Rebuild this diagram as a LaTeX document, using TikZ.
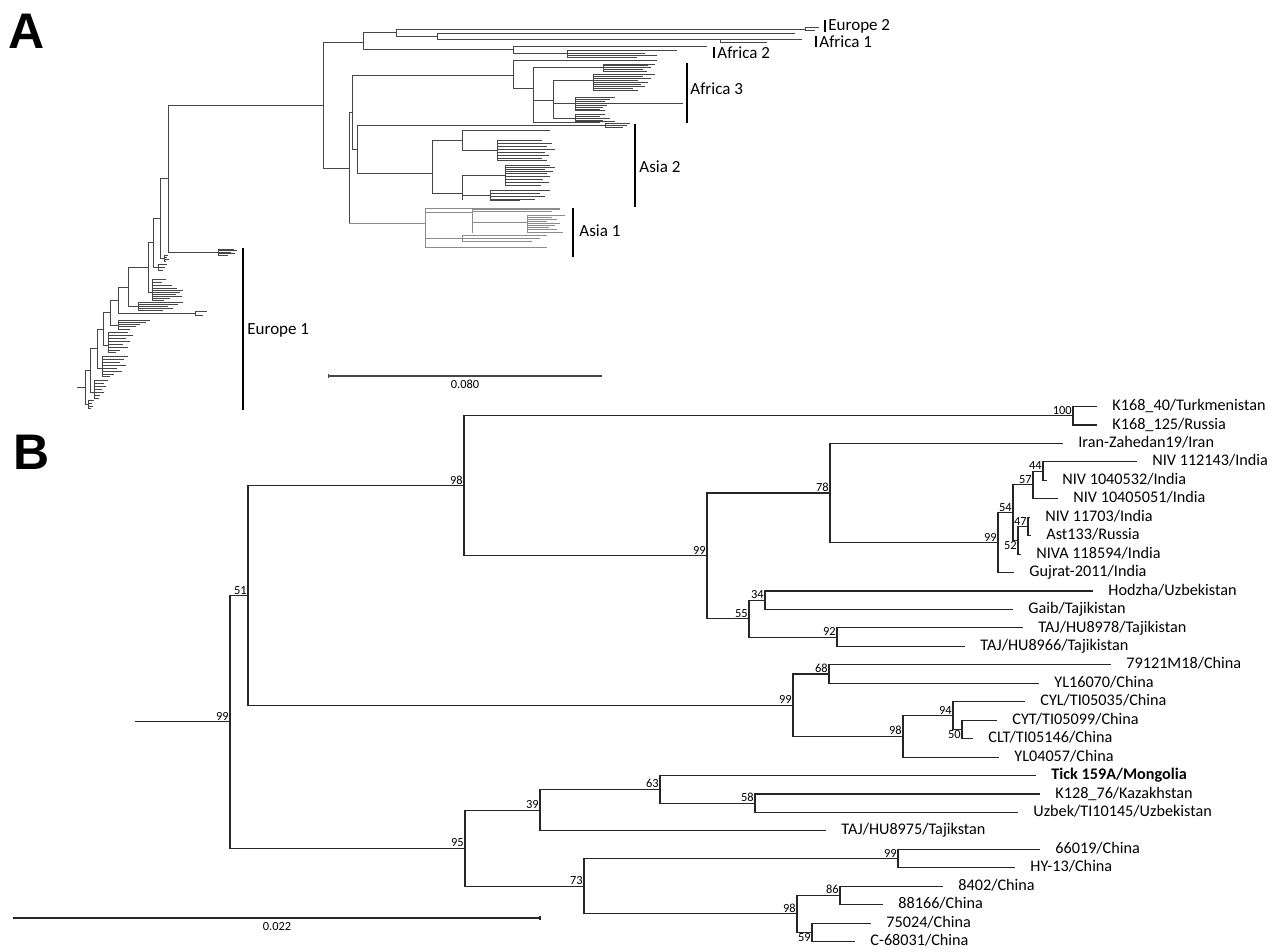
\documentclass[tikz,border=0pt]{standalone}
\usepackage{fontspec}
\setmainfont{Carlito}
\newfontfamily\panelfont{Liberation Sans}
\definecolor{treeGray}{RGB}{70, 70, 70}
\definecolor{asiaGray}{RGB}{140, 140, 140}
% fan of short leaves starting at x = #2, given as y/length pairs
\newcommand{\twigs}[3][]{\foreach \twy/\twl in {#3} \draw[treeA, #1] (#2, \twy) -- ++(\twl, 0);}
\tikzset{
  treeA/.style = {draw = treeGray, line width = 0.35pt},
  asiaA/.style = {draw = asiaGray, line width = 0.35pt},
  cladebar/.style = {draw = black, line width = 1pt},
  cladetext/.style = {anchor = west, inner sep = 0pt, font = \fontsize{8.5}{9}\selectfont},
  br/.style = {draw = black!85, line width = 0.55pt},
  leaf/.style = {anchor = west, inner xsep = 7.5pt, inner ysep = 0pt, text height = 5.6pt, text depth = 1.5pt, font = \fontsize{8.1}{9}\selectfont},
  bs/.style = {anchor = south east, inner sep = 0.5pt, font = \fontsize{6.2}{6.2}\selectfont},
  bsbelow/.style = {bs, anchor = north east},
  panel/.style = {inner sep = 0pt, font = \panelfont\bfseries\fontsize{25}{25}\selectfont},
  scaletext/.style = {anchor = north, inner sep = 0pt, font = \fontsize{6.2}{6.2}\selectfont}
}
\begin{document}
\begin{tikzpicture}[x = 0.5pt, y = -0.5pt]   % 1 unit = 1 px of the figure
  \useasboundingbox (0, 0) rectangle (1284, 952);
  % panel letters
  \node[panel] (pA) at (27, 31) {A};
  \node[panel] (pB) at (32, 452) {B};

  %%% panel A
  % Europe 1 ladder
  \draw[treeA] (168, 105) -- (168, 252);
  \draw[treeA] (168, 105) -- (323, 105);
  \draw[treeA] (168, 252) -- (218, 252);
  \draw[treeA] (218, 249) -- (218, 255);
  \twigs{218}{249/16, 250.5/19, 252/13, 253.5/17, 255/10}
  \draw[treeA] (160, 178.5) -- (168, 178.5);
  \draw[treeA] (160, 178.5) -- (160, 258) -- (164, 258);
  \draw[treeA] (164, 255) -- (164, 261);
  \twigs{164}{255/4, 257/3, 259/5, 261/2}
  \draw[treeA] (153, 218) -- (160, 218);
  \draw[treeA] (153, 218) -- (153, 267) -- (158, 267);
  \draw[treeA] (158, 264) -- (158, 270);
  \twigs{158}{264/9, 267/7, 270/5}
  \draw[treeA] (148, 242.5) -- (153, 242.5);
  \draw[treeA] (148, 242.5) -- (148, 292) -- (152, 292);
  \draw[treeA] (152, 279) -- (152, 300);
  \twigs{152}{279/14, 282/10, 285/20, 288/25, 290/31, 292/28, 294/24, 296/30, 298/18, 300/12}
  \draw[treeA] (128, 267) -- (148, 267);
  \draw[treeA] (128, 267) -- (128, 306) -- (138, 306);
  \draw[treeA] (138, 302) -- (138, 310);
  \twigs{138}{302/45, 304/40, 306/30, 308/35, 310/25}
  \draw[treeA] (118, 287) -- (128, 287);
  \draw[treeA] (118, 287) -- (118, 313) -- (195, 313);
  \draw[treeA] (195, 311) -- (195, 315);
  \twigs{195}{311/12, 315/8}
  \draw[treeA] (110, 300) -- (118, 300);
  \draw[treeA] (110, 300) -- (110, 325) -- (118, 325);
  \draw[treeA] (118, 320) -- (118, 329);
  \twigs{118}{320/32, 322/28, 324/22, 326/18, 329/12}
  \draw[treeA] (103, 312) -- (110, 312);
  \draw[treeA] (103, 312) -- (103, 345) -- (108, 345);
  \draw[treeA] (108, 332) -- (108, 352);
  \twigs{108}{332/20, 335/25, 338/18, 341/22, 344/15, 347/20, 350/12, 352/8}
  \draw[treeA] (97, 329) -- (103, 329);
  \draw[treeA] (97, 329) -- (97, 368) -- (102, 368);
  \draw[treeA] (102, 356) -- (102, 376);
  \twigs{102}{356/26, 359/22, 362/18, 365/24, 368/15, 371/20, 374/12, 376/8}
  \draw[treeA] (90, 348) -- (97, 348);
  \draw[treeA] (90, 348) -- (90, 392) -- (94, 392);
  \draw[treeA] (94, 380) -- (94, 398);
  \twigs{94}{380/14, 383/10, 386/12, 389/8, 392/10, 395/6, 398/5}
  \draw[treeA] (85, 370) -- (90, 370);
  \draw[treeA] (85, 370) -- (85, 404) -- (88, 404);
  \draw[treeA] (88, 400) -- (88, 408);
  \twigs{88}{400/6, 403/4, 406/5, 408/3}
  \draw[treeA] (77, 387) -- (85, 387);
  % upper clades
  \draw[treeA] (323, 42) -- (323, 168);
  \draw[treeA] (323, 42) -- (363, 42);
  \draw[treeA] (363, 32.5) -- (363, 49);
  \draw[treeA] (363, 32.5) -- (396, 32.5);
  \draw[treeA] (396, 29) -- (396, 36);
  % Europe 2
  \draw[treeA] (396, 29) -- (805, 29);
  \draw[treeA] (805, 27.5) -- (805, 30.5);
  \twigs{805}{27.5/14, 30.5/10}
  % Africa 1
  \draw[treeA] (396, 36) -- (437, 36);
  \draw[treeA] (437, 33) -- (437, 39);
  \draw[treeA] (437, 33) -- (795, 33);
  \draw[treeA] (437, 39) -- (720, 39);
  \draw[treeA] (720, 39) -- (720, 42);
  \twigs{720}{39/82, 42/47}
  % Africa 2
  \draw[treeA] (363, 49) -- (513, 49);
  \draw[treeA] (513, 46) -- (513, 53);
  \draw[treeA] (513, 46) -- (707, 46);
  \draw[treeA] (513, 53) -- (567, 53);
  \draw[treeA] (567, 50.5) -- (567, 57);
  \twigs{567}{50.5/110, 53/78, 55/90, 57/70}
  % lower clades
  \draw[treeA] (323, 168) -- (349, 168);
  \draw[treeA] (349, 112) -- (349, 223);
  \draw[treeA] (349, 112) -- (352, 112);
  \draw[treeA] (352, 75) -- (352, 149);
  % Africa 3
  \draw[treeA] (352, 75) -- (513, 75);
  \draw[treeA] (513, 60) -- (513, 88);
  \draw[treeA] (513, 60) -- (657, 60);
  \draw[treeA] (513, 88) -- (533, 88);
  \draw[treeA] (533, 67) -- (533, 122) -- (600, 122);
  \draw[treeA] (533, 67) -- (603, 67);
  \draw[treeA] (603, 64) -- (603, 71);
  \twigs{603}{64/52, 65.5/45, 67/48, 69/40, 71/44}
  \draw[treeA] (533, 100) -- (553, 100);
  \draw[treeA] (553, 80) -- (553, 118);
  \draw[treeA] (553, 80) -- (593, 80);
  \draw[treeA] (593, 74) -- (593, 90);
  \twigs{593}{74/62, 76/50, 78/58, 80/45, 82/55, 84/48, 86/52, 88/40, 90/45}
  \draw[treeA] (553, 103) -- (575, 103);
  \draw[treeA] (575, 97) -- (575, 110);
  \twigs{575}{97/40, 99/35, 101/30, 103/108, 105/32, 107/28, 109/25, 110/30}
  \draw[treeA] (553, 118) -- (575, 118);
  \draw[treeA] (575, 114) -- (575, 121);
  \twigs{575}{114/30, 116/25, 118/35, 120/28, 121/40}
  % Asia 2
  \draw[treeA] (352, 149) -- (357, 149);
  \draw[treeA] (357, 125) -- (357, 173);
  \draw[treeA] (357, 125) -- (605, 125);
  \draw[treeA] (605, 123) -- (605, 127);
  \twigs{605}{123/25, 125/22, 127/18}
  \draw[treeA] (357, 173) -- (432, 173);
  \draw[treeA] (432, 140) -- (432, 193);
  \draw[treeA] (432, 140) -- (462, 140);
  \draw[treeA] (462, 130) -- (462, 150);
  \draw[treeA] (462, 130) -- (550, 130);
  \draw[treeA] (462, 150) -- (497, 150);
  \draw[treeA] (497, 140) -- (497, 160);
  \twigs{497}{140/45, 143/55, 146/50, 149/58, 152/48, 155/52, 158/45, 160/50}
  \draw[treeA] (432, 193) -- (462, 193);
  \draw[treeA] (462, 175) -- (462, 200);
  \draw[treeA] (462, 175) -- (505, 175);
  \draw[treeA] (505, 165) -- (505, 185);
  \twigs{505}{165/45, 167/50, 169/40, 171/48, 173/42, 176/45, 179/38, 182/44, 185/36}
  \draw[treeA] (462, 195) -- (490, 195);
  \draw[treeA] (490, 190) -- (490, 200);
  \twigs{490}{190/60, 193/50, 196/55, 199/45, 200/30}
  % Asia 1
  \draw[asiaA] (349, 223) -- (425, 223);
  \draw[asiaA] (425, 208) -- (425, 247);
  \draw[asiaA] (425, 208) -- (560, 208);
  \draw[asiaA] (425, 212) -- (472, 212);
  \draw[asiaA] (472, 209) -- (472, 233);
  \twigs[asiaA]{472}{209/88, 211/80}
  \draw[asiaA] (472, 222) -- (527, 222);
  \draw[asiaA] (527, 215) -- (527, 232);
  \twigs[asiaA]{527}{215/38, 217/25, 219/30, 221/20, 223/33, 225/28, 227/22, 229/30, 232/36}
  \draw[asiaA] (425, 238) -- (462, 238);
  \draw[asiaA] (462, 235) -- (462, 241);
  \twigs[asiaA]{462}{235/85, 238/78, 241/70}
  \draw[asiaA] (425, 247) -- (547, 247);
  % clade bars and names
  \draw[cladebar] (825, 20) -- (825, 32);
  \node[cladetext] (eu2) at (828, 26) {Europe 2};
  \draw[cladebar] (816, 36) -- (816, 47);
  \node[cladetext] (af1) at (819, 42) {Africa 1};
  \draw[cladebar] (714, 47) -- (714, 58);
  \node[cladetext] (af2) at (717, 53) {Africa 2};
  \draw[cladebar] (687, 63) -- (687, 123);
  \node[cladetext] (af3) at (690, 89) {Africa 3};
  \draw[cladebar] (635, 124) -- (635, 207);
  \node[cladetext] (as2) at (639, 167) {Asia 2};
  \draw[cladebar] (573, 208) -- (573, 257);
  \node[cladetext] (as1) at (579, 231) {Asia 1};
  \draw[cladebar] (243, 248) -- (243, 410);
  \node[cladetext] (eu1) at (247, 330) {Europe 1};
  % scale bar A
  \coordinate (sbA0) at (328, 376);
  \coordinate (sbA1) at (602, 376);
  \draw[treeA, line width = 0.6pt] (sbA0) -- (sbA1);
  \draw[treeA] (sbA0) ++(0, -2) -- ++(0, 4);
  \node[scaletext] (sbAtext) at (465, 380) {0.080};

  %%% panel B
  % inner nodes
  \coordinate (root) at (135, 721.8);
  \coordinate (n99r) at (230, 721.8);
  \coordinate (n51) at (248, 595.5);
  \coordinate (n98) at (464, 485.8);
  \coordinate (n100) at (1073, 415.7);
  \coordinate (n99a) at (707, 555.9);
  \coordinate (n78) at (830, 493.0);
  \coordinate (n99d) at (998, 542.6);
  \coordinate (n54) at (1013, 512.6);
  \coordinate (n57) at (1033, 484.9);
  \coordinate (n44) at (1043, 471.1);
  \coordinate (n52) at (1018, 540.3);
  \coordinate (n47) at (1028, 526.4);
  \coordinate (n55) at (749, 618.7);
  \coordinate (n34) at (765, 600.2);
  \coordinate (n92) at (837, 637.1);
  \coordinate (n99b) at (793, 705.2);
  \coordinate (n68) at (829, 674.0);
  \coordinate (n98b) at (903, 736.3);
  \coordinate (n94) at (953, 715.5);
  \coordinate (n50) at (962, 729.4);
  \coordinate (n95) at (465, 848.1);
  \coordinate (n39) at (540, 810.1);
  \coordinate (n63) at (660, 789.3);
  \coordinate (n58) at (755, 803.2);
  \coordinate (n73) at (584, 886.2);
  \coordinate (n99c) at (898, 858.5);
  \coordinate (n98c) at (797, 913.9);
  \coordinate (n86) at (840, 895.4);
  \coordinate (n59) at (812, 932.3);
  % taxa
  \node[leaf] (kTur) at (1097, 406.5) {K168\_40/Turkmenistan};
  \node[leaf] (kRus) at (1097, 424.95) {K168\_125/Russia};
  \node[leaf] (iran) at (1063, 443.4) {Iran-Zahedan19/Iran};
  \node[leaf] (nivA) at (1137, 461.85) {NIV 112143/India};
  \node[leaf] (nivB) at (1047, 480.3) {NIV 1040532/India};
  \node[leaf] (nivC) at (1058, 498.75) {NIV 10405051/India};
  \node[leaf] (nivD) at (1030, 517.2) {NIV 11703/India};
  \node[leaf] (ast) at (1031, 535.65) {Ast133/Russia};
  \node[leaf] (nivE) at (1021, 554.1) {NIVA 118594/India};
  \node[leaf] (guj) at (1014, 572.55) {Gujrat-2011/India};
  \node[leaf] (hod) at (1093, 591.0) {Hodzha/Uzbekistan};
  \node[leaf] (gaib) at (1013, 609.45) {Gaib/Tajikistan};
  \node[leaf] (tajA) at (1023, 627.9) {TAJ/HU8978/Tajikistan};
  \node[leaf] (tajB) at (965, 646.35) {TAJ/HU8966/Tajikistan};
  \node[leaf] (chA) at (1111, 664.8) {79121M18/China};
  \node[leaf] (chB) at (1039, 683.25) {YL16070/China};
  \node[leaf] (chC) at (1025, 701.7) {CYL/TI05035/China};
  \node[leaf] (chD) at (997, 720.15) {CYT/TI05099/China};
  \node[leaf] (chE) at (973, 738.6) {CLT/TI05146/China};
  \node[leaf] (chF) at (999, 757.05) {YL04057/China};
  \node[leaf, font = \fontsize{8.1}{9}\selectfont\bfseries] (tick) at (1036, 775.5) {Tick 159A/Mongolia};
  \node[leaf] (kaz) at (1040, 793.95) {K128\_76/Kazakhstan};
  \node[leaf] (uzb) at (1018, 812.4) {Uzbek/TI10145/Uzbekistan};
  \node[leaf] (tajC) at (826, 830.85) {TAJ/HU8975/Tajikstan};
  \node[leaf] (chG) at (1040, 849.3) {66019/China};
  \node[leaf] (chH) at (1015, 867.75) {HY-13/China};
  \node[leaf] (chI) at (943, 886.2) {8402/China};
  \node[leaf] (chJ) at (883, 904.65) {88166/China};
  \node[leaf] (chK) at (871, 923.1) {75024/China};
  \node[leaf] (chL) at (855, 941.55) {C-68031/China};
  % branches
  \draw[br] (root) -- (n99r);
  \foreach \p/\c in {n99r/n51, n99r/n95, n51/n98, n51/n99b, n98/n100, n98/n99a,
      n99a/n78, n99a/n55, n78/n99d, n99d/n54, n54/n57, n54/n52, n57/n44, n52/n47,
      n55/n34, n55/n92, n99b/n68, n99b/n98b, n98b/n94, n94/n50,
      n95/n39, n95/n73, n39/n63, n63/n58, n73/n99c, n73/n98c, n98c/n86, n98c/n59}
    \draw[br] (\p) |- (\c);
  \foreach \p/\c in {n100/kTur, n100/kRus, n78/iran, n44/nivA, n44/nivB, n57/nivC,
      n47/nivD, n47/ast, n52/nivE, n99d/guj, n34/hod, n34/gaib, n92/tajA, n92/tajB,
      n68/chA, n68/chB, n94/chC, n50/chD, n50/chE, n98b/chF,
      n63/tick, n58/kaz, n58/uzb, n39/tajC, n99c/chG, n99c/chH, n86/chI, n86/chJ,
      n59/chK, n59/chL}
    \draw[br] (\p) |- (\c.west);
  % bootstrap values
  \foreach \n/\v in {n99r/99, n51/51, n98/98, n100/100, n99a/99, n78/78, n99d/99,
      n54/54, n57/57, n44/44, n47/47, n55/55, n34/34, n92/92, n99b/99, n68/68,
      n98b/98, n94/94, n95/95, n39/39, n63/63, n58/58, n73/73, n99c/99, n98c/98, n86/86}
    \node[bs] (b\n) at (\n) {\v};
  \foreach \n/\v in {n52/52, n50/50, n59/59}
    \node[bsbelow] (b\n) at (\n) {\v};
  % scale bar B
  \coordinate (sbB0) at (13, 918);
  \coordinate (sbB1) at (540, 918);
  \draw[br] (sbB0) -- (sbB1);
  \draw[br] (sbB1) ++(0, -2) -- ++(0, 4);
  \node[scaletext] (sbBtext) at (277, 922) {0.022};
\end{tikzpicture}
\end{document}
